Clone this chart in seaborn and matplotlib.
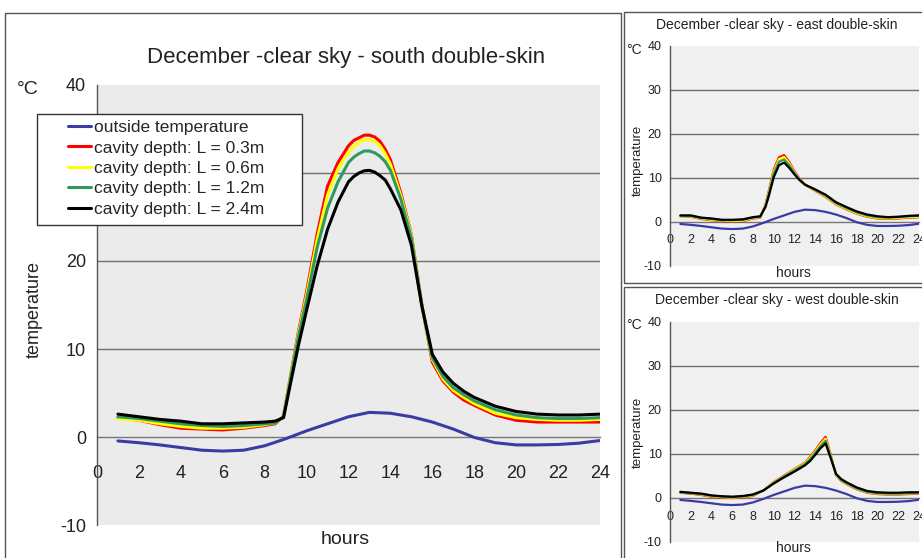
import matplotlib
matplotlib.use("Agg")
import matplotlib.pyplot as plt
from matplotlib.patches import Rectangle
from matplotlib.lines import Line2D
import seaborn as sns
import pandas as pd

# ---------------- data ----------------
series_names = ["outside temperature", "cavity depth: L = 0.3m", "cavity depth: L = 0.6m",
                "cavity depth: L = 1.2m", "cavity depth: L = 2.4m"]
series_colors = ["#3b3ba6", "#ff0000", "#ffff00", "#2e9a60", "#000000"]

hours_out = list(range(1, 25))
outside = [-0.45, -0.65, -0.9, -1.2, -1.5, -1.6, -1.5, -1.0, -0.2, 0.7, 1.5, 2.3,
           2.8, 2.7, 2.3, 1.7, 0.9, -0.05, -0.65, -0.9, -0.9, -0.85, -0.7, -0.4]

# south double-skin
hours_s = [1, 2, 3, 4, 5, 6, 7, 8, 8.5, 8.9, 9.2, 9.6, 10, 10.5, 11, 11.5, 12, 12.25,
           12.5, 12.75, 13, 13.25, 13.5, 13.75, 14, 14.5, 15, 15.5, 16, 16.5, 17, 17.5,
           18, 19, 20, 21, 22, 23, 24]
south_03 = [2.2, 1.9, 1.4, 1.0, 0.9, 0.8, 1.0, 1.3, 1.5, 2.4, 6.5, 11.8, 16.5, 23.0, 28.5,
            31.2, 33.1, 33.7, 34.0, 34.3, 34.3, 34.1, 33.6, 32.7, 31.5, 27.7, 23.0, 15.0,
            8.5, 6.4, 5.1, 4.2, 3.6, 2.5, 1.9, 1.7, 1.7, 1.7, 1.7]
south_06 = [2.1, 1.9, 1.5, 1.2, 1.0, 1.0, 1.1, 1.4, 1.6, 2.4, 6.4, 11.6, 16.1, 22.4, 27.5,
            30.5, 32.4, 33.0, 33.5, 33.8, 33.8, 33.6, 33.1, 32.2, 31.0, 27.4, 22.9, 14.9,
            8.8, 6.6, 5.3, 4.5, 3.8, 2.7, 2.2, 2.0, 1.9, 1.9, 2.0]
south_12 = [2.3, 2.1, 1.8, 1.5, 1.3, 1.2, 1.3, 1.5, 1.6, 2.3, 6.2, 11.3, 15.6, 21.5, 26.0,
            29.0, 31.2, 31.8, 32.2, 32.5, 32.5, 32.3, 31.9, 31.3, 30.3, 27.0, 22.6, 14.9,
            9.0, 6.9, 5.6, 4.8, 4.1, 3.1, 2.5, 2.2, 2.1, 2.1, 2.2]
south_24 = [2.6, 2.3, 2.0, 1.8, 1.5, 1.5, 1.6, 1.7, 1.8, 2.2, 5.7, 10.3, 14.4, 19.4, 23.6,
            26.7, 29.0, 29.6, 30.0, 30.25, 30.3, 30.1, 29.7, 29.2, 28.2, 25.8, 21.8, 14.9,
            9.4, 7.4, 6.1, 5.2, 4.5, 3.5, 2.9, 2.6, 2.5, 2.5, 2.6]

# east double-skin
hours_e = [1, 2, 3, 4, 5, 6, 7, 8, 8.7, 9.2, 9.5, 10, 10.5, 11, 11.5, 12, 12.5, 13, 14,
           15, 16, 17, 18, 19, 20, 21, 22, 23, 24]
east_03 = [1.3, 1.2, 0.7, 0.4, 0.2, 0.1, 0.2, 0.8, 1.0, 3.9, 6.8, 11.9, 14.7, 15.2, 13.6,
           11.5, 9.8, 8.5, 7.1, 5.7, 4.0, 2.9, 1.9, 1.2, 0.8, 0.7, 0.8, 1.0, 1.1]
east_06 = [1.3, 1.3, 0.8, 0.5, 0.3, 0.2, 0.3, 0.9, 1.1, 3.8, 6.5, 11.5, 14.3, 14.8, 13.3,
           11.3, 9.7, 8.5, 7.2, 5.8, 4.1, 3.0, 2.0, 1.3, 0.9, 0.8, 0.9, 1.1, 1.2]
east_12 = [1.4, 1.4, 0.9, 0.7, 0.4, 0.4, 0.5, 1.0, 1.2, 3.6, 6.2, 11.0, 13.7, 14.2, 12.9,
           11.1, 9.6, 8.5, 7.3, 6.0, 4.3, 3.2, 2.2, 1.5, 1.1, 1.0, 1.1, 1.3, 1.4]
east_24 = [1.5, 1.5, 1.0, 0.8, 0.5, 0.5, 0.6, 1.1, 1.3, 3.4, 5.7, 10.2, 12.9, 13.5, 12.3,
           10.8, 9.5, 8.5, 7.4, 6.2, 4.5, 3.4, 2.4, 1.7, 1.3, 1.1, 1.2, 1.4, 1.5]

# west double-skin
hours_w = [1, 2, 3, 4, 5, 6, 7, 8, 9, 10, 11, 12, 12.5, 13, 13.5, 14, 14.5, 15, 15.5,
           16, 16.5, 17, 18, 19, 20, 21, 22, 23, 24]
west_03 = [1.2, 1.0, 0.7, 0.3, 0.1, 0.0, 0.15, 0.5, 1.7, 3.6, 5.1, 6.6, 7.3, 8.0, 9.3,
           10.8, 12.5, 13.9, 9.7, 5.2, 3.9, 3.2, 2.0, 1.2, 0.9, 0.8, 0.8, 0.9, 1.0]
west_06 = [1.3, 1.1, 0.8, 0.4, 0.2, 0.1, 0.25, 0.6, 1.7, 3.5, 5.0, 6.5, 7.2, 7.9, 9.1,
           10.6, 12.2, 13.5, 9.5, 5.3, 4.0, 3.3, 2.1, 1.3, 1.0, 0.9, 0.9, 1.0, 1.1]
west_12 = [1.3, 1.1, 0.9, 0.5, 0.3, 0.2, 0.35, 0.7, 1.7, 3.4, 4.9, 6.3, 7.0, 7.7, 8.8,
           10.3, 11.8, 13.0, 9.3, 5.4, 4.1, 3.4, 2.2, 1.4, 1.1, 1.0, 1.0, 1.1, 1.2]
west_24 = [1.4, 1.2, 1.0, 0.6, 0.4, 0.3, 0.45, 0.8, 1.7, 3.3, 4.7, 6.0, 6.7, 7.4, 8.4,
           9.8, 11.3, 12.4, 9.0, 5.5, 4.3, 3.6, 2.4, 1.6, 1.3, 1.2, 1.2, 1.3, 1.3]

titles = ["December -clear sky - south double-skin",
          "December -clear sky - east double-skin",
          "December -clear sky - west double-skin"]
x_ticks = list(range(0, 25, 2))
y_ticks = [-10, 0, 10, 20, 30, 40]


def long_df(hours_c, cav_lists):
    rows = []
    for h, v in zip(hours_out, outside):
        rows.append((h, v, series_names[0]))
    for name, vals in zip(series_names[1:], cav_lists):
        for h, v in zip(hours_c, vals):
            rows.append((h, v, name))
    return pd.DataFrame(rows, columns=["hour", "temp", "series"])


df_s = long_df(hours_s, [south_03, south_06, south_12, south_24])
df_e = long_df(hours_e, [east_03, east_06, east_12, east_24])
df_w = long_df(hours_w, [west_03, west_06, west_12, west_24])

# ---------------- style ----------------
sns.set_theme(style="white")
plt.rcParams["font.family"] = ["Liberation Sans", "DejaVu Sans"]

W, H = 922, 558
fig = plt.figure(figsize=(W / 100, H / 100), dpi=100)
palette = dict(zip(series_names, series_colors))


def fx(x):
    return x / W


def fy(y):
    return 1 - y / H


def px_axes(l, t, r, b):
    return fig.add_axes([fx(l), fy(b), fx(r) - fx(l), fy(t) - fy(b)])


# frames around the three charts
for (l, t, r, b) in [(5, 13, 621, 562), (624, 12, 926, 283), (624, 287, 926, 562)]:
    fig.add_artist(Rectangle((fx(l), fy(b)), fx(r) - fx(l), fy(t) - fy(b),
                             transform=fig.transFigure, fill=False,
                             edgecolor="#555555", linewidth=1.0, zorder=0))


def style_axes(ax, face, tick_fs, xpad, lw_grid, tick_len):
    ax.set_xlim(0, 24)
    ax.set_ylim(-10, 40)
    ax.set_facecolor(face)
    ax.set_xticks(x_ticks)
    ax.set_yticks(y_ticks)
    ax.set_xticklabels([str(t) for t in x_ticks])
    ax.set_yticklabels([str(t) for t in y_ticks])
    for s in ["top", "right"]:
        ax.spines[s].set_visible(False)
    ax.spines["bottom"].set_position(("data", 0))
    ax.spines["bottom"].set_color("#777777")
    ax.spines["left"].set_color("#555555")
    ax.spines["bottom"].set_linewidth(1.0)
    ax.spines["left"].set_linewidth(1.0)
    ax.spines["bottom"].set_zorder(1)
    for g in [10, 20, 30]:
        ax.axhline(g, color="#6f6f6f", linewidth=lw_grid, zorder=1)
    ax.tick_params(axis="x", direction="out", length=tick_len, width=1.0,
                   color="#555555", labelsize=tick_fs, pad=xpad, labelcolor="#222222")
    ax.tick_params(axis="y", direction="out", length=tick_len, width=1.0,
                   color="#555555", labelsize=tick_fs, pad=3, labelcolor="#222222")
    ax.set_xlabel("")
    ax.set_ylabel("")


# ---------------- main (south) ----------------
ax_s = px_axes(97, 85, 600, 525)
sns.lineplot(data=df_s, x="hour", y="temp", hue="series", hue_order=series_names,
             palette=palette, linewidth=2.2, legend=False, ax=ax_s, zorder=3)
style_axes(ax_s, "#ebebeb", 13, 15, 1.0, 5)

fig.text(fx(346), fy(58), titles[0], ha="center", va="center", fontsize=16, color="#222222")
fig.text(fx(28), fy(89), "°C", ha="center", va="center", fontsize=14, color="#222222")
fig.text(fx(34), fy(310), "temperature", ha="center", va="center", rotation=90,
         fontsize=13, color="#222222")
fig.text(fx(345), fy(539), "hours", ha="center", va="center", fontsize=14, color="#222222")

# legend
fig.add_artist(Rectangle((fx(37), fy(225)), fx(302) - fx(37), fy(114) - fy(225),
                         transform=fig.transFigure, facecolor="white",
                         edgecolor="#333333", linewidth=1.0, zorder=2))
handles = [Line2D([0], [0], color=c, linewidth=2.2) for c in series_colors]
fig.legend(handles, series_names, loc="upper left",
           bbox_to_anchor=(fx(68), fy(120)), bbox_transform=fig.transFigure,
           frameon=False, fontsize=12.5, handlelength=1.35, handletextpad=0.15,
           labelspacing=0.3, borderpad=0, borderaxespad=0)

# ---------------- east ----------------
ax_e = px_axes(670, 46, 919, 266)
sns.lineplot(data=df_e, x="hour", y="temp", hue="series", hue_order=series_names,
             palette=palette, linewidth=1.6, legend=False, ax=ax_e, zorder=3)
style_axes(ax_e, "#f0f0f0", 9, 6, 1.0, 3)
fig.text(fx(777), fy(25), titles[1], ha="center", va="center", fontsize=10, color="#222222")
fig.text(fx(634), fy(50), "°C", ha="center", va="center", fontsize=10, color="#222222")
fig.text(fx(638), fy(160), "temperature", ha="center", va="center", rotation=90,
         fontsize=9.5, color="#222222")
fig.text(fx(793), fy(273), "hours", ha="center", va="center", fontsize=10, color="#222222")

# ---------------- west ----------------
ax_w = px_axes(670, 322, 919, 542)
sns.lineplot(data=df_w, x="hour", y="temp", hue="series", hue_order=series_names,
             palette=palette, linewidth=1.6, legend=False, ax=ax_w, zorder=3)
style_axes(ax_w, "#f0f0f0", 9, 6, 1.0, 3)
fig.text(fx(777), fy(300), titles[2], ha="center", va="center", fontsize=10, color="#222222")
fig.text(fx(634), fy(325), "°C", ha="center", va="center", fontsize=10, color="#222222")
fig.text(fx(638), fy(432), "temperature", ha="center", va="center", rotation=90,
         fontsize=9.5, color="#222222")
fig.text(fx(793), fy(548), "hours", ha="center", va="center", fontsize=10, color="#222222")

fig.savefig("out.png", dpi=100)
